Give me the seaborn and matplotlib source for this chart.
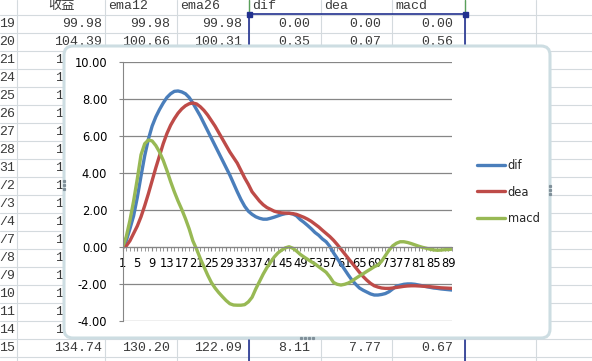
import numpy as np
import pandas as pd
import matplotlib
matplotlib.use("Agg")
import matplotlib.pyplot as plt
import seaborn as sns
from matplotlib.patches import FancyBboxPatch, Rectangle

# ---- chart data ----
dif = [0, 0.35, 1.0, 1.7, 2.7, 3.85, 4.95, 5.85, 6.55, 7.05,
       7.45, 7.8, 8.1, 8.3, 8.43, 8.45, 8.4, 8.3, 8.1, 7.8,
       7.45, 7.1, 6.7, 6.3, 5.9, 5.5, 5.1, 4.7, 4.3, 3.9,
       3.45, 3.0, 2.58, 2.22, 1.95, 1.78, 1.65, 1.57, 1.52, 1.52,
       1.57, 1.63, 1.7, 1.77, 1.82, 1.84, 1.8, 1.7, 1.5, 1.35,
       1.18, 1.0, 0.8, 0.65, 0.45, 0.3, 0.05, -0.3, -0.6, -0.9,
       -1.2, -1.5, -1.78, -2.0, -2.2, -2.32, -2.42, -2.52, -2.58, -2.58,
       -2.55, -2.5, -2.4, -2.25, -2.1, -2.05, -2.0, -1.98, -1.98, -2.0,
       -2.04, -2.08, -2.12, -2.16, -2.2, -2.22, -2.25, -2.27, -2.29, -2.31]
dea = [0, 0.07, 0.35, 0.75, 1.15, 1.65, 2.25, 2.9, 3.6, 4.3,
       4.95, 5.6, 6.15, 6.6, 6.95, 7.25, 7.48, 7.65, 7.76, 7.8,
       7.75, 7.6, 7.4, 7.15, 6.85, 6.55, 6.2, 5.85, 5.5, 5.15,
       4.85, 4.55, 4.15, 3.75, 3.4, 3.0, 2.75, 2.5, 2.3, 2.15,
       2.05, 1.95, 1.9, 1.86, 1.85, 1.84, 1.82, 1.78, 1.7, 1.62,
       1.52, 1.4, 1.25, 1.1, 0.92, 0.75, 0.58, 0.38, 0.15, -0.1,
       -0.35, -0.6, -0.85, -1.1, -1.35, -1.58, -1.78, -1.95, -2.08, -2.15,
       -2.2, -2.22, -2.22, -2.2, -2.17, -2.14, -2.11, -2.09, -2.08, -2.08,
       -2.09, -2.1, -2.12, -2.13, -2.15, -2.17, -2.19, -2.2, -2.21, -2.22]
macd = [0, 0.56, 1.45, 2.5, 3.7, 5.0, 5.6, 5.8, 5.75, 5.5,
        5.15, 4.7, 4.15, 3.55, 3.0, 2.5, 2.05, 1.55, 1.0, 0.35,
        -0.1, -0.6, -1.05, -1.5, -1.9, -2.2, -2.45, -2.67, -2.88, -3.05,
        -3.12, -3.13, -3.13, -3.1, -2.95, -2.7, -2.25, -1.85, -1.45, -1.1,
        -0.8, -0.52, -0.3, -0.15, -0.03, 0.03, -0.05, -0.2, -0.38, -0.52,
        -0.65, -0.78, -0.9, -1.05, -1.2, -1.35, -1.6, -1.9, -2.0, -2.04,
        -2.0, -1.93, -1.82, -1.68, -1.55, -1.43, -1.3, -1.18, -1.05, -0.96,
        -0.75, -0.45, -0.15, 0.08, 0.22, 0.3, 0.3, 0.26, 0.2, 0.13,
        0.06, 0.0, -0.05, -0.1, -0.14, -0.16, -0.15, -0.13, -0.12, -0.1]
series_names = ["dif", "dea", "macd"]
line_colors = ["#4a7ebb", "#be4b48", "#98b954"]
y_ticks = [-4, -2, 0, 2, 4, 6, 8, 10]

# ---- spreadsheet behind the chart ----
header = ["收益", "ema12", "ema26", "dif", "dea", "macd"]
row_labels = ["19", "20", "21", "24", "25", "26", "27", "28", "31", "/2",
              "/3", "/4", "/7", "/8", "/9", "10", "11", "14", "15"]
row_first = ["99.98", "99.98", "99.98", "0.00", "0.00", "0.00"]
row_second = ["104.39", "100.66", "100.31", "0.35", "0.07", "0.56"]
row_last = ["134.74", "130.20", "122.09", "8.11", "7.77", "0.67"]
# only the leading digits of the 收益 column peek out from under the chart
close_visible = ["10", "11", "12", "12", "12", "12", "12", "12",
                 "13", "13", "13", "13", "13", "13", "1", "13"]

df = pd.DataFrame({"idx": list(range(1, len(dif) + 1)) * 3,
                   "value": dif + dea + macd,
                   "series": np.repeat(series_names, len(dif))})

sns.set_style("white")
plt.rcParams["font.family"] = ["DejaVu Sans", "Noto Sans CJK SC"]

W, H = 592, 361
fig = plt.figure(figsize=(W / 100, H / 100), dpi=100)

# background sheet in pixel coords
bg = fig.add_axes([0, 0, 1, 1])
bg.set_xlim(0, W)
bg.set_ylim(H, 0)
bg.axis("off")
col_edges = [17, 105, 177, 249, 321, 392, 465, 536]
for x in col_edges:
    bg.plot([x, x], [0, H], color="#d4dade", lw=0.8, zorder=1)
for k in range(21):
    y = 15 + 18 * k
    bg.plot([0, W], [y, y], color="#d4dade", lw=0.8, zorder=1)

sheet_font = ["Liberation Mono", "Noto Sans CJK SC"]
txt_kw = dict(fontsize=9.5, color="#3a3a3a", va="center", family=sheet_font, zorder=2)
hdr_x = [48, 108, 180, 252, 324, 395]
for x, h in zip(hdr_x, header):
    bg.text(x, 6, h, ha="left", **txt_kw)
for k, lab in enumerate(row_labels):
    bg.text(15, 24 + 18 * k, lab, ha="right", **txt_kw)
val_right = [102, 170, 242, 310, 381, 453]
for x, a, b, c in zip(val_right, row_first, row_second, row_last):
    bg.text(x, 24, a, ha="right", **txt_kw)
    bg.text(x, 42, b, ha="right", **txt_kw)
    bg.text(x, 348, c, ha="right", **txt_kw)
for k, v in enumerate(close_visible):
    bg.text(55, 60 + 18 * k, v, ha="left", **txt_kw)

# selection box around dif..macd
sel = "#22318f"
bg.plot([249, 249], [14, H], color=sel, lw=1.2, zorder=3)
bg.plot([465, 465], [14, H], color=sel, lw=1.2, zorder=3)
bg.plot([249, 465], [14, 14], color=sel, lw=1.2, zorder=3)
bg.plot([249, 249], [0, 13], color="#5aa05a", lw=1, zorder=3)
bg.plot([465, 465], [0, 13], color="#5aa05a", lw=1, zorder=3)
for x in (249, 465):
    bg.add_patch(Rectangle((x - 2.5, 11.5), 5, 5, color=sel, zorder=4))

# chart frame
frame = FancyBboxPatch((64, 46), 486, 292, boxstyle="round,pad=0,rounding_size=9",
                       fc="white", ec="#cddde2", lw=2.2, zorder=5)
bg.add_patch(frame)
for (hx, hy) in [(64, 185), (550, 190)]:
    bg.plot([hx] * 3, [hy - 4, hy, hy + 4], ls="none", marker="s", ms=1.3, color="#7f8f99", zorder=6)
bg.plot([301, 305, 309, 313], [338] * 4, ls="none", marker="s", ms=1.3, color="#7f8f99", zorder=6)

# ---- the chart itself ----
ax = fig.add_axes([122.5 / W, 1 - 321.3 / H, 329.5 / W, 259 / H])
ax.set_facecolor("none")
sns.lineplot(data=df, x="idx", y="value", hue="series", hue_order=series_names,
             palette=line_colors, lw=2.4, ax=ax, sort=True)

ax.set_xlim(1, len(dif))
ax.set_ylim(-4, 10)
ax.set_yticks(y_ticks)
ax.set_yticklabels([f"{v:.2f}" for v in y_ticks])
ax.set_xticks(range(1, len(dif) + 1, 4))
ax.set_xticklabels([str(i) for i in range(1, len(dif) + 1, 4)])
ax.set_xticks(range(1, len(dif) + 1), minor=True)
ax.yaxis.grid(True, color="#868686", lw=0.9)
ax.xaxis.grid(False)
ax.set_axisbelow(True)
ax.set_xlabel("")
ax.set_ylabel("")
for s in ("top", "right"):
    ax.spines[s].set_visible(False)
ax.spines["bottom"].set_position(("data", 0))
ax.spines["bottom"].set_color("#868686")
ax.spines["left"].set_color("#868686")
ax.tick_params(axis="y", length=3, color="#868686", pad=8, labelsize=8.3, labelcolor="black", left=True)
ax.tick_params(axis="x", which="both", direction="out", length=3, color="#868686",
               pad=4, labelsize=8.3, labelcolor="black", bottom=True)

handles, labels = ax.get_legend_handles_labels()
ax.legend(handles, labels, loc="center left", bbox_to_anchor=(472 / W, 1 - 192 / H),
          bbox_transform=fig.transFigure, frameon=False, fontsize=8.3,
          handlelength=2.5, handletextpad=0.2, labelspacing=1.2, borderaxespad=0)

fig.savefig("out.png", dpi=100)
